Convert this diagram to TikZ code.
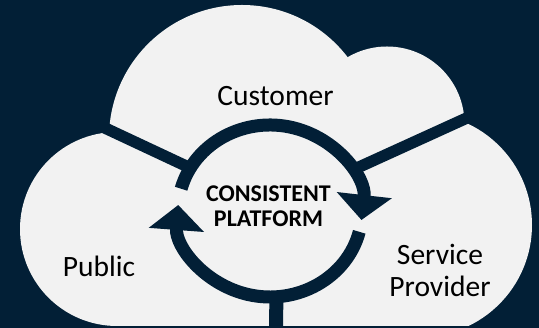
\documentclass[tikz,border=0pt]{standalone}
\usepackage{fontspec}
\setmainfont{Carlito}
\usepackage{tikz}
\usetikzlibrary{
    calc,
    arrows.meta
}
\definecolor{navy}{RGB}{2,31,54}
\definecolor{cloudgrey}{RGB}{242,242,242}
\tikzset{
    % dark band that splits the cloud
    band/.style={draw=navy, line width=#1},
    band/.default=11.5pt,
    % thick ring piece with a large arrow head
    ringarrow/.style={
        draw=navy, line width=13pt,
        -{Triangle[length=25pt, width=54pt]}
    },
    lobetext/.style={font=\fontsize{29.5}{32}\selectfont, align=center, anchor=base, inner sep=0pt},
    hubtext/.style={font=\fontsize{24}{25.5}\selectfont\bfseries, align=center, anchor=base, inner sep=0pt}
}

\begin{document}
\begin{tikzpicture}[x=1pt, y=1pt]
            \fill[navy] (0,0) rectangle (539,328);
            \useasboundingbox (0,0) rectangle (539,328);
            % cloud made of lobes
            \begin{scope}
                \clip (0,2) rectangle (539,328);
                \foreach \c/\r in {(242,190)/133, (387,204)/77.5, (420,103)/112, (117,99)/97} {
                    \fill[cloudgrey] \c circle[radius=\r pt];
                }
                \fill[cloudgrey] (117,2) rectangle (420,140);
            \end{scope}
            \coordinate (hub) at (270,117);
            \coordinate (nw) at (90,207);
            \coordinate (ne) at (480,216);
            \coordinate (foot) at (276,0);
            \coordinate (ring-nw) at ($(hub)+(150:92pt and 86pt)$);
            \coordinate (ring-ne) at ($(hub)+(28:92pt and 86pt)$);
            \coordinate (ring-s) at ($(hub)+(-86:92pt and 86pt)$);
            \draw[band] (nw) -- (ring-nw);
            \draw[band] (ne) -- (ring-ne);
            \draw[band=14pt] (foot) -- (ring-s);
            \draw[ringarrow] ($(hub)+(165:92pt and 86pt)$)
                arc[start angle=165, end angle=-6, x radius=92pt, y radius=86pt];
            \draw[ringarrow] ($(hub)+(-14:92pt and 86pt)$)
                arc[start angle=-14, end angle=-184, x radius=92pt, y radius=86pt];
            % base anchor sits on the last line
            \node[lobetext] (customer) at (275.5,222) {Customer};
            \node[lobetext] (public) at (99,51) {Public};
            \node[lobetext] (provider) at (440,31) {Service\\Provider};
            \node[hubtext] (platform) at (268.5,101) {CONSISTENT\\PLATFORM};
        \end{tikzpicture}
\end{document}
